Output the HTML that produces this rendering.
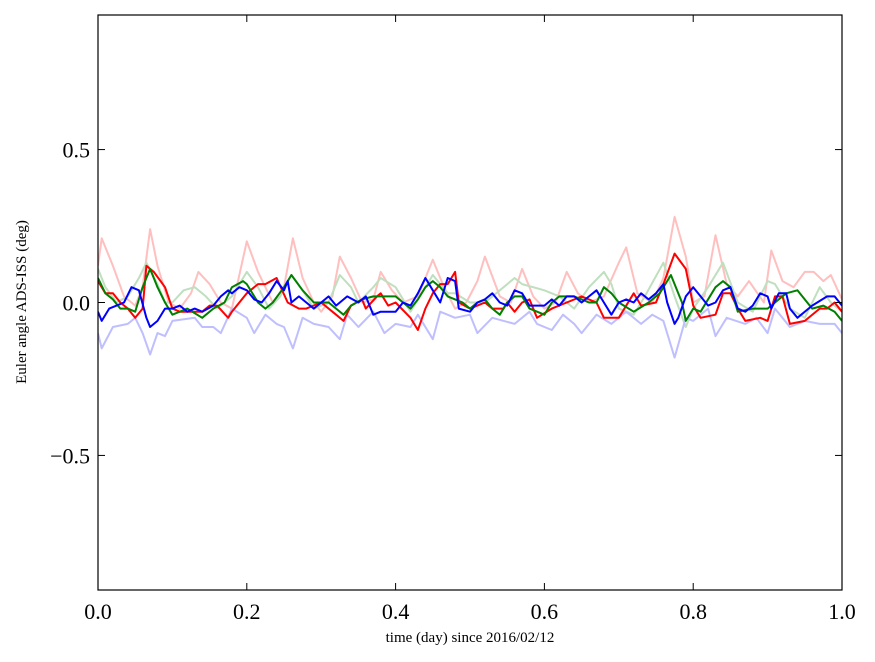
<!DOCTYPE html>
<html><head><meta charset="utf-8"><style>
body{margin:0;background:#fff;}
svg{display:block;font-family:"Liberation Serif",serif;}
</style></head><body>
<svg id="chart" width="875" height="662" viewBox="0 0 875 662" xmlns="http://www.w3.org/2000/svg"></svg>
<script>
const xTicks=[0,0.2,0.4,0.6,0.8,1.0];
const xTickLabels=["0.0","0.2","0.4","0.6","0.8","1.0"];
const yTicks=[0.5,0,-0.5];
const yTickLabels=["0.5","0.0","\u22120.5"];
const fRedT=[0,0.005,0.02,0.035,0.05,0.06,0.07,0.08,0.095,0.11,0.125,0.135,0.15,0.165,0.18,0.2,0.215,0.235,0.25,0.262,0.275,0.29,0.3,0.315,0.325,0.34,0.355,0.37,0.38,0.395,0.41,0.43,0.45,0.465,0.48,0.495,0.51,0.52,0.54,0.555,0.57,0.585,0.6,0.615,0.63,0.645,0.66,0.68,0.7,0.71,0.725,0.745,0.76,0.775,0.79,0.8,0.815,0.83,0.845,0.86,0.875,0.895,0.905,0.92,0.935,0.95,0.962,0.975,0.985,1.0];
const fRedV=[0.12,0.21,0.12,0.02,-0.01,0.05,0.24,0.12,0.0,-0.02,0.03,0.10,0.06,0.0,-0.02,0.2,0.1,0.0,0.05,0.21,0.08,0.0,-0.03,0.02,0.15,0.08,0.0,0.01,0.1,0.04,0.0,0.02,0.14,0.05,-0.02,0.0,0.07,0.15,0.02,0.0,0.11,0.02,-0.02,0.0,0.1,0.03,0.0,0.02,0.13,0.18,0.03,0.0,0.08,0.28,0.15,0.0,0.02,0.22,0.06,0.02,0.07,0.0,0.17,0.07,0.05,0.1,0.1,0.07,0.09,0.01];
const fGreenT=[0,0.01,0.025,0.04,0.055,0.065,0.08,0.09,0.1,0.115,0.13,0.145,0.16,0.18,0.2,0.215,0.23,0.245,0.26,0.275,0.29,0.31,0.325,0.34,0.35,0.37,0.38,0.4,0.42,0.44,0.45,0.47,0.48,0.5,0.52,0.54,0.56,0.57,0.6,0.62,0.64,0.66,0.68,0.69,0.7,0.72,0.735,0.76,0.775,0.79,0.8,0.82,0.84,0.86,0.88,0.9,0.91,0.93,0.95,0.97,0.985,1.0];
const fGreenV=[0.11,0.05,0.0,0.02,0.08,0.13,0.06,0.0,0.0,0.04,0.05,0.02,-0.02,0.02,0.1,0.05,-0.02,0.02,0.09,0.04,-0.02,0.0,0.09,0.05,0.0,0.05,0.08,0.05,-0.03,0.05,0.09,0.03,0.03,0.0,0.0,0.04,0.08,0.06,0.04,0.02,-0.02,0.05,0.1,0.06,-0.02,-0.04,0.02,0.13,0.02,-0.08,-0.02,0.05,0.13,0.0,-0.03,0.07,0.06,-0.02,-0.05,0.05,0.0,-0.03];
const fBlueT=[0,0.005,0.02,0.04,0.05,0.06,0.07,0.08,0.09,0.1,0.13,0.14,0.155,0.165,0.18,0.2,0.21,0.225,0.24,0.25,0.262,0.275,0.29,0.31,0.325,0.335,0.35,0.37,0.385,0.4,0.42,0.43,0.45,0.46,0.48,0.5,0.51,0.53,0.56,0.58,0.59,0.61,0.625,0.64,0.65,0.67,0.69,0.71,0.73,0.745,0.76,0.775,0.79,0.8,0.82,0.83,0.845,0.87,0.885,0.9,0.91,0.93,0.95,0.97,0.99,1.0];
const fBlueV=[-0.1,-0.15,-0.08,-0.07,-0.05,-0.1,-0.17,-0.1,-0.11,-0.06,-0.05,-0.08,-0.08,-0.1,-0.02,-0.05,-0.1,-0.04,-0.07,-0.08,-0.15,-0.05,-0.07,-0.08,-0.12,-0.04,-0.08,-0.03,-0.1,-0.07,-0.08,-0.04,-0.12,-0.03,-0.05,-0.04,-0.1,-0.05,-0.07,-0.03,-0.07,-0.09,-0.04,-0.07,-0.1,-0.04,-0.07,-0.03,-0.07,-0.04,-0.06,-0.18,-0.05,-0.06,-0.02,-0.11,-0.05,-0.07,-0.05,-0.1,-0.02,-0.08,-0.06,-0.07,-0.07,-0.1];
const redT=[0,0.01,0.02,0.03,0.04,0.05,0.06,0.065,0.075,0.09,0.1,0.11,0.12,0.14,0.15,0.16,0.175,0.18,0.2,0.215,0.225,0.24,0.255,0.27,0.28,0.3,0.32,0.33,0.34,0.355,0.36,0.375,0.38,0.39,0.4,0.42,0.43,0.44,0.45,0.46,0.47,0.48,0.485,0.5,0.51,0.52,0.53,0.545,0.55,0.56,0.57,0.58,0.59,0.61,0.63,0.65,0.67,0.68,0.7,0.72,0.73,0.75,0.76,0.775,0.79,0.8,0.81,0.83,0.84,0.85,0.86,0.87,0.89,0.9,0.91,0.92,0.93,0.95,0.97,0.98,0.99,1.0];
const redV=[0.07,0.03,0.03,0.0,-0.02,-0.05,-0.02,0.12,0.1,0.05,-0.02,-0.03,-0.03,-0.03,-0.01,-0.01,-0.05,-0.03,0.03,0.06,0.06,0.08,0.0,-0.02,-0.02,0.0,-0.04,-0.06,-0.01,0.01,-0.02,0.02,0.03,-0.01,0.0,-0.05,-0.09,-0.02,0.03,0.06,0.06,0.1,0.0,-0.02,-0.01,0.0,-0.02,-0.02,0.0,-0.03,0.0,0.01,-0.05,-0.02,0.0,0.02,0.0,-0.05,-0.05,0.03,-0.01,0.0,0.06,0.16,0.11,-0.01,-0.05,-0.04,0.03,0.03,-0.02,-0.06,-0.05,-0.06,0.02,0.02,-0.07,-0.06,-0.02,-0.02,0.0,-0.03];
const greenT=[0,0.01,0.02,0.03,0.04,0.05,0.06,0.07,0.08,0.09,0.1,0.12,0.14,0.155,0.17,0.18,0.195,0.2,0.215,0.225,0.235,0.25,0.26,0.275,0.29,0.31,0.32,0.33,0.34,0.355,0.37,0.38,0.4,0.41,0.42,0.43,0.44,0.45,0.46,0.47,0.48,0.49,0.5,0.51,0.52,0.53,0.54,0.55,0.56,0.57,0.58,0.6,0.61,0.62,0.64,0.66,0.67,0.68,0.69,0.7,0.72,0.74,0.755,0.77,0.785,0.79,0.8,0.81,0.83,0.84,0.85,0.86,0.88,0.9,0.915,0.925,0.94,0.96,0.975,0.99,1.0];
const greenV=[0.08,0.03,0.01,-0.02,-0.02,-0.03,0.05,0.11,0.05,0.0,-0.04,-0.02,-0.05,-0.02,0.0,0.05,0.07,0.06,0.0,-0.02,0.0,0.05,0.09,0.04,0.0,0.0,-0.02,-0.04,-0.01,0.01,0.02,0.02,0.02,0.0,-0.02,0.01,0.05,0.07,0.05,0.02,0.01,0.0,-0.02,0.0,0.01,-0.02,-0.04,0.0,0.02,0.02,-0.02,-0.04,0.0,0.02,0.02,0.0,0.0,0.05,0.03,0.0,-0.03,0.0,0.03,0.09,0.0,-0.06,-0.02,-0.03,0.05,0.07,0.05,-0.03,-0.02,-0.02,0.01,0.03,0.04,-0.02,-0.01,-0.03,-0.06];
const blueT=[0,0.005,0.015,0.025,0.035,0.045,0.055,0.065,0.07,0.08,0.09,0.1,0.11,0.12,0.13,0.14,0.155,0.165,0.175,0.18,0.19,0.2,0.21,0.22,0.23,0.24,0.25,0.255,0.26,0.27,0.28,0.29,0.3,0.31,0.32,0.335,0.35,0.36,0.37,0.38,0.4,0.41,0.42,0.43,0.44,0.45,0.46,0.47,0.48,0.485,0.5,0.51,0.52,0.53,0.54,0.55,0.56,0.57,0.58,0.6,0.61,0.62,0.63,0.64,0.65,0.66,0.67,0.68,0.69,0.7,0.71,0.72,0.73,0.74,0.75,0.76,0.765,0.775,0.78,0.79,0.8,0.81,0.82,0.83,0.84,0.85,0.86,0.87,0.88,0.89,0.9,0.905,0.915,0.925,0.93,0.94,0.96,0.98,0.99,1.0];
const blueV=[-0.03,-0.06,-0.02,-0.01,0.0,0.05,0.04,-0.05,-0.08,-0.06,-0.02,-0.02,-0.01,-0.03,-0.02,-0.03,-0.01,0.02,0.04,0.03,0.05,0.04,0.01,0.0,0.03,0.07,0.04,0.07,0.0,0.02,0.0,-0.02,0.0,0.02,-0.01,0.02,0.0,0.02,-0.04,-0.03,-0.03,0.0,-0.01,0.03,0.08,0.04,0.0,0.08,0.07,-0.02,-0.03,0.0,0.01,0.03,0.0,-0.01,0.04,0.03,-0.01,-0.01,0.01,-0.01,0.02,0.02,0.0,0.02,0.04,0.0,-0.04,0.0,0.01,0.0,0.03,0.01,0.03,0.06,0.0,-0.07,-0.05,0.02,0.05,0.02,-0.01,0.0,0.04,0.05,-0.02,-0.03,-0.01,0.03,0.02,-0.02,0.03,0.03,-0.02,-0.05,-0.01,0.02,0.02,-0.01];

const NS="http://www.w3.org/2000/svg";
const svg=document.getElementById('chart');
const L=98,R=842,T=15,B=590,YMAX=0.94,YMIN=-0.94;
function sx(v){return L+(v-0)/(1-0)*(R-L);}
function sy(v){return T+(YMAX-v)/(YMAX-YMIN)*(B-T);}
function mk(tag,attrs){const e=document.createElementNS(NS,tag);for(const k in attrs)e.setAttribute(k,attrs[k]);return e;}

const plot=mk('g',{'clip-path':'url(#clip)'});


const defs=mk('defs',{});const cp=mk('clipPath',{id:'clip'});cp.appendChild(mk('rect',{x:L,y:T,width:R-L,height:B-T}));defs.appendChild(cp);svg.appendChild(defs);
svg.appendChild(plot);

function line(ts,vs,color,name){
  let d='';
  for(let i=0;i<ts.length;i++)d+=(i?'L':'M')+sx(ts[i]).toFixed(1)+','+sy(vs[i]).toFixed(1);
  const p=mk('path',{d:d,fill:'none',stroke:color,'stroke-width':2,'stroke-linejoin':'round'});
  
  
  plot.appendChild(p);
}
line(fRedT,fRedV,'#ffbfbf','faint-red-series');
line(fGreenT,fGreenV,'#bfdfbf','faint-green-series');
line(fBlueT,fBlueV,'#bfbfff','faint-blue-series');
line(redT,redV,'#ff0000','red-series');
line(greenT,greenV,'#008000','green-series');
line(blueT,blueV,'#0000ff','blue-series');

const frame=mk('rect',{x:L,y:T,width:R-L,height:B-T,fill:'none',stroke:'#000','stroke-width':1.2});


svg.appendChild(frame);

xTicks.forEach((v,i)=>{
  const x=sx(v);
  svg.appendChild(mk('line',{x1:x,y1:B,x2:x,y2:B-7,stroke:'#000'}));
  svg.appendChild(mk('line',{x1:x,y1:T,x2:x,y2:T+7,stroke:'#000'}));
  const t=mk('text',{x:x,y:B+29,'text-anchor':'middle','font-size':22});
  t.textContent=xTickLabels[i];
  
  
  svg.appendChild(t);
});
yTicks.forEach((v,i)=>{
  const y=sy(v);
  svg.appendChild(mk('line',{x1:L,y1:y,x2:L+7,y2:y,stroke:'#000'}));
  svg.appendChild(mk('line',{x1:R,y1:y,x2:R-7,y2:y,stroke:'#000'}));
  const t=mk('text',{x:L-8,y:y+8,'text-anchor':'end','font-size':22});
  t.textContent=yTickLabels[i];
  
  
  svg.appendChild(t);
});
const xl=mk('text',{x:(L+R)/2,y:642,'text-anchor':'middle','font-size':15});
xl.textContent='time (day) since 2016/02/12';


svg.appendChild(xl);
const yl=mk('text',{x:0,y:0,'text-anchor':'middle','font-size':15,transform:'translate(26,302) rotate(-90)'});
yl.textContent='Euler angle ADS-ISS (deg)';


svg.appendChild(yl);
</script>
</body></html>
